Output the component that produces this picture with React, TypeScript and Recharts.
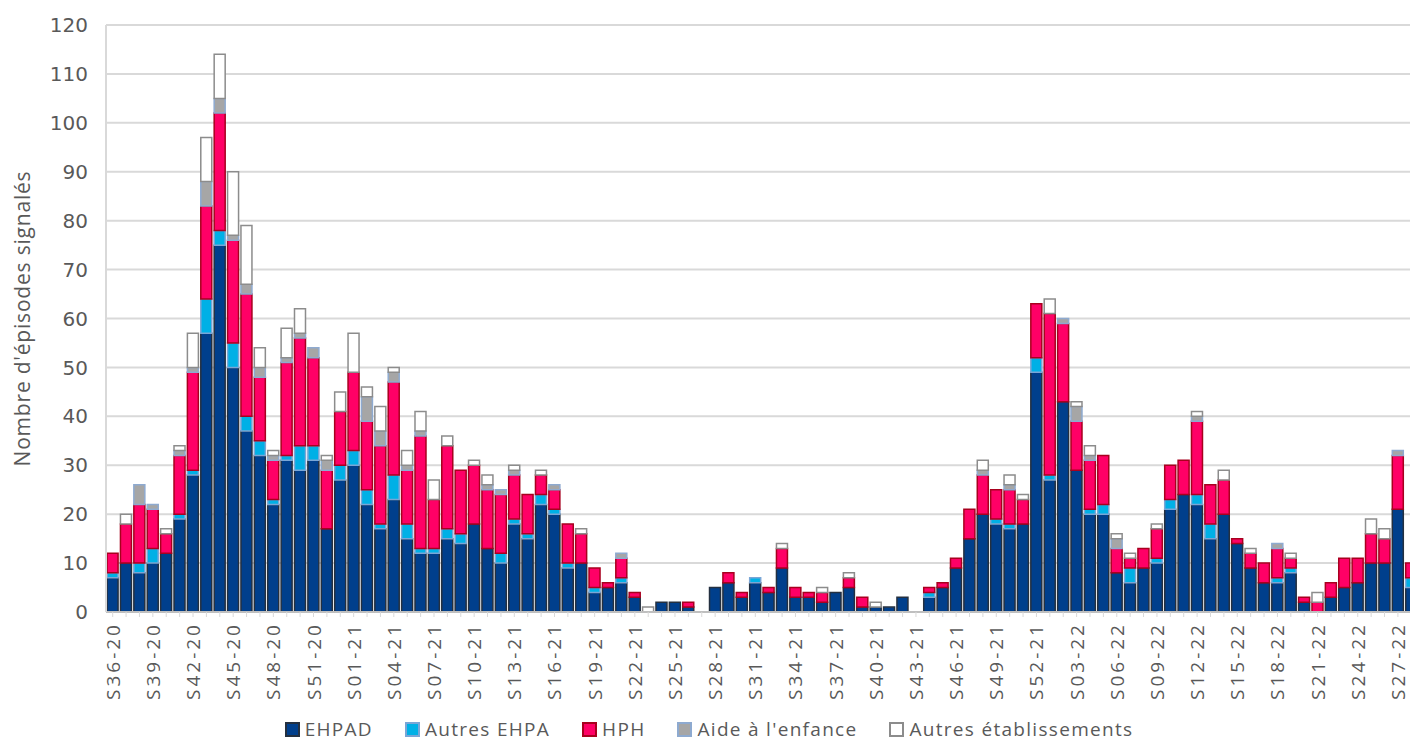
import React from "react";
import { BarChart, Bar, XAxis, YAxis, CartesianGrid, Legend } from "recharts";

// weeks S36-20 .. S28-22 (2020 has 53 weeks)
const weeks = [
  "S36-20", "S37-20", "S38-20", "S39-20", "S40-20", "S41-20", "S42-20", "S43-20", "S44-20", "S45-20",
  "S46-20", "S47-20", "S48-20", "S49-20", "S50-20", "S51-20", "S52-20", "S53-20",
  "S01-21", "S02-21", "S03-21", "S04-21", "S05-21", "S06-21", "S07-21", "S08-21", "S09-21", "S10-21",
  "S11-21", "S12-21", "S13-21", "S14-21", "S15-21", "S16-21", "S17-21", "S18-21", "S19-21", "S20-21",
  "S21-21", "S22-21", "S23-21", "S24-21", "S25-21", "S26-21", "S27-21", "S28-21", "S29-21", "S30-21",
  "S31-21", "S32-21", "S33-21", "S34-21", "S35-21", "S36-21", "S37-21", "S38-21", "S39-21", "S40-21",
  "S41-21", "S42-21", "S43-21", "S44-21", "S45-21", "S46-21", "S47-21", "S48-21", "S49-21", "S50-21",
  "S51-21", "S52-21",
  "S01-22", "S02-22", "S03-22", "S04-22", "S05-22", "S06-22", "S07-22", "S08-22", "S09-22", "S10-22",
  "S11-22", "S12-22", "S13-22", "S14-22", "S15-22", "S16-22", "S17-22", "S18-22", "S19-22", "S20-22",
  "S21-22", "S22-22", "S23-22", "S24-22", "S25-22", "S26-22", "S27-22", "S28-22",
];

const ehpad = [
  7, 10, 8, 10, 12, 19, 28, 57, 75, 50,
  37, 32, 22, 31, 29, 31, 17, 27, 30, 22,
  17, 23, 15, 12, 12, 15, 14, 18, 13, 10,
  18, 15, 22, 20, 9, 10, 4, 5, 6, 3,
  0, 2, 2, 1, 0, 5, 6, 3, 6, 4,
  9, 3, 3, 2, 4, 5, 1, 1, 1, 3,
  0, 3, 5, 9, 15, 20, 18, 17, 18, 49,
  27, 43, 29, 20, 20, 8, 6, 9, 10, 21,
  24, 22, 15, 20, 14, 9, 6, 6, 8, 2,
  0, 3, 5, 6, 10, 10, 21, 5,
];

const autresEhpa = [
  1, 0, 2, 3, 0, 1, 1, 7, 3, 5,
  3, 3, 1, 1, 5, 3, 0, 3, 3, 3,
  1, 5, 3, 1, 1, 2, 2, 0, 0, 2,
  1, 1, 2, 1, 1, 0, 1, 0, 1, 0,
  0, 0, 0, 0, 0, 0, 0, 0, 1, 0,
  0, 0, 0, 0, 0, 0, 0, 0, 0, 0,
  0, 1, 0, 0, 0, 0, 1, 1, 0, 3,
  1, 0, 0, 1, 2, 0, 3, 0, 1, 2,
  0, 2, 3, 0, 0, 0, 0, 1, 1, 0,
  0, 0, 0, 0, 0, 0, 0, 2,
];

const hph = [
  4, 8, 12, 8, 4, 12, 20, 19, 24, 21,
  25, 13, 8, 19, 22, 18, 12, 11, 16, 14,
  16, 19, 11, 23, 10, 17, 13, 12, 12, 12,
  9, 8, 4, 4, 8, 6, 4, 1, 4, 1,
  0, 0, 0, 1, 0, 0, 2, 1, 0, 1,
  4, 2, 1, 2, 0, 2, 2, 0, 0, 0,
  0, 1, 1, 2, 6, 8, 6, 7, 5, 11,
  33, 16, 10, 10, 10, 5, 2, 4, 6, 7,
  7, 15, 8, 7, 1, 3, 4, 6, 2, 1,
  2, 3, 6, 5, 6, 5, 11, 3,
];

const aideEnfance = [
  0, 0, 4, 1, 0, 1, 1, 5, 3, 1,
  2, 2, 1, 1, 1, 2, 2, 0, 0, 5,
  3, 2, 1, 1, 0, 0, 0, 0, 1, 1,
  1, 0, 0, 1, 0, 0, 0, 0, 1, 0,
  0, 0, 0, 0, 0, 0, 0, 0, 0, 0,
  0, 0, 0, 0, 0, 0, 0, 0, 0, 0,
  0, 0, 0, 0, 0, 1, 0, 1, 0, 0,
  0, 1, 3, 1, 0, 2, 0, 0, 0, 0,
  0, 1, 0, 0, 0, 0, 0, 1, 0, 0,
  0, 0, 0, 0, 0, 0, 1, 0,
];

const autresEtab = [
  0, 2, 0, 0, 1, 1, 7, 9, 9, 13,
  12, 4, 1, 6, 5, 0, 1, 4, 8, 2,
  5, 1, 3, 4, 4, 2, 0, 1, 2, 0,
  1, 0, 1, 0, 0, 1, 0, 0, 0, 0,
  1, 0, 0, 0, 0, 0, 0, 0, 0, 0,
  1, 0, 0, 1, 0, 1, 0, 1, 0, 0,
  0, 0, 0, 0, 0, 2, 0, 2, 1, 0,
  3, 0, 1, 2, 0, 1, 1, 0, 1, 0,
  0, 1, 0, 2, 0, 1, 0, 0, 1, 0,
  2, 0, 0, 0, 3, 2, 0, 0,
];

const yTicks = [0, 10, 20, 30, 40, 50, 60, 70, 80, 90, 100, 110, 120];

const SERIES = [
  { key: "ehpad", name: "EHPAD", fill: "#003f8c", stroke: "#243040" },
  { key: "autresEhpa", name: "Autres EHPA", fill: "#00b0e6", stroke: "#7aa6d6" },
  { key: "hph", name: "HPH", fill: "#ff0066", stroke: "#a8001e" },
  { key: "aide", name: "Aide à l'enfance", fill: "#a6a6a6", stroke: "#8eaad0" },
  { key: "autres", name: "Autres établissements", fill: "#ffffff", stroke: "#8c8c8c" },
];

const data = weeks.map((week, i) => ({
  week,
  ehpad: ehpad[i],
  autresEhpa: autresEhpa[i],
  hph: hph[i],
  aide: aideEnfance[i],
  autres: autresEtab[i],
}));

const TEXT = "#595959";

const WeekTick = ({ x, y, payload, index }: any) => {
  const i = payload?.index ?? index
  if (i % 3 !== 0) return null
  return (
    <text
      x={x}
      y={y + 1}
      transform={`rotate(-90, ${x}, ${y + 1})`}
      textAnchor="end"
      dominantBaseline="central"
      fill={TEXT}
      style={{ fontFamily: "'Open Sans', sans-serif", fontSize: 19, letterSpacing: 3 }}
    >
      {payload.value}
    </text>
  )
}

const YTitle = ({ viewBox }: any) => {
  const cx = viewBox.x + 22
  const cy = viewBox.y + viewBox.height / 2
  return (
    <text
      x={cx}
      y={cy}
      transform={`rotate(-90, ${cx}, ${cy})`}
      textAnchor="middle"
      dominantBaseline="central"
      fill={TEXT}
      style={{ fontFamily: "'Open Sans', sans-serif", fontSize: 21, letterSpacing: 0.8 }}
    >
      Nombre d'épisodes signalés
    </text>
  )
}

const renderLegend = () => (
  <div
    style={{
      display: "flex",
      justifyContent: "center",
      alignItems: "center",
      height: 30,
      lineHeight: "22px",
      fontFamily: "'Open Sans', sans-serif",
      fontSize: 19,
      letterSpacing: 1.3,
      color: TEXT,
    }}
  >
    {SERIES.map((s, i) => (
      <div
        key={s.key}
        style={{ display: "flex", alignItems: "center", marginRight: i === SERIES.length - 1 ? 0 : 32 }}
      >
        <span
          style={{
            display: "inline-block",
            width: 11,
            height: 11,
            background: s.fill,
            border: `2px solid ${s.stroke}`,
            marginRight: 5,
          }}
        />
        <span>{s.name}</span>
      </div>
    ))}
  </div>
)

export default function App() {
  return (
    <div style={{ position: "absolute", left: 0, top: 0, width: 1410, height: 742, overflow: "hidden", background: "#fff" }}>
      <BarChart
        width={1420}
        height={742}
        data={data}
        margin={{ top: 25, right: 2, left: 0, bottom: 0 }}
        barCategoryGap="8%"
      >
        <CartesianGrid vertical={false} stroke="#d9d9d9" strokeWidth={2} />
        <XAxis
          dataKey="week"
          interval={0}
          height={100}
          tick={<WeekTick />}
          tickSize={5}
          tickMargin={4}
          tickLine={{ stroke: "#d9d9d9" }}
          axisLine={{ stroke: "#bfbfbf", strokeWidth: 2 }}
        />
        <YAxis
          domain={[0, 120]}
          ticks={yTicks}
          width={106}
          tickSize={0}
          tickMargin={18}
          axisLine={{ stroke: "#d9d9d9", strokeWidth: 2 }}
          tickLine={false}
          tick={{ fill: TEXT, fontSize: 20, fontFamily: "'DejaVu Sans', sans-serif" }}
          label={<YTitle />}
        />
        <Legend verticalAlign="bottom" height={30} content={renderLegend} wrapperStyle={{ bottom: -2 }} />
        {SERIES.map((s) => (
          <Bar
            key={s.key}
            dataKey={s.key}
            name={s.name}
            stackId="a"
            fill={s.fill}
            stroke={s.stroke}
            strokeWidth={1.5}
            isAnimationActive={false}
          />
        ))}
      </BarChart>
    </div>
  )
}
